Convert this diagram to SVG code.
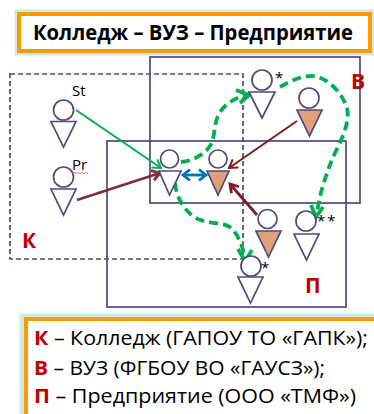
<svg xmlns="http://www.w3.org/2000/svg" width="374" height="414" viewBox="0 0 374 414">
<style>
text{font-family:"Open Sans","Noto Sans","DejaVu Sans",sans-serif;fill:#000}
.glow{fill:none;stroke:#cfe9e9;stroke-width:7}
.frame{fill:#fff;stroke:#ff9900;stroke-width:4}
.area{fill:none;stroke:#4b4b7d;stroke-width:1.700}
.dash{stroke-dasharray:5 3}
.p,.c{fill:#fff;stroke:#4b4b7d;stroke-width:1.700}
.o{fill:#e0a07a;stroke:#4b4b7d;stroke-width:1.700}
.g{fill:none;stroke:#00b050;stroke-width:2;marker-end:url(#ag)}
.gd{fill:none;stroke:#00b050;stroke-width:3.800;stroke-dasharray:9 5}
.gh{fill:none;stroke:#00b050;stroke-width:3.800}
.m{fill:none;stroke:#7b2f3a;stroke-width:2.800;marker-end:url(#am)}
.r{fill:none;stroke:#7f1a20;stroke-width:2;marker-end:url(#ar)}
.r2{fill:none;stroke:#7f1a20;stroke-width:2.800;marker-end:url(#ar2)}
.b{fill:none;stroke:#0070c0;stroke-width:2.800;marker-start:url(#abs);marker-end:url(#ab)}
.l{font-weight:700;font-size:21px;fill:#c00000}
.k{font-weight:700;fill:#c00000}
.s{font-size:15px}
.leg{font-size:20px}
.st{font-size:15px}
</style>
<defs>
<marker id="ag" markerUnits="userSpaceOnUse" markerWidth="14" markerHeight="14" refX="9" refY="6" orient="auto"><path d="M1 1L9 6L1 11" fill="none" stroke="#00b050" stroke-width="2"/></marker>
<marker id="am" markerUnits="userSpaceOnUse" markerWidth="14" markerHeight="14" refX="10" refY="6" orient="auto"><path d="M2 1L10 6L2 11" fill="none" stroke="#7b2f3a" stroke-width="2.800"/></marker>
<marker id="ar" markerUnits="userSpaceOnUse" markerWidth="14" markerHeight="14" refX="10" refY="6" orient="auto"><path d="M2 1L10 6L2 11" fill="none" stroke="#7f1a20" stroke-width="2"/></marker>
<marker id="ar2" markerUnits="userSpaceOnUse" markerWidth="14" markerHeight="14" refX="10" refY="6" orient="auto"><path d="M2 1L10 6L2 11" fill="none" stroke="#7f1a20" stroke-width="2.800"/></marker>
<marker id="ab" markerUnits="userSpaceOnUse" markerWidth="14" markerHeight="14" refX="9" refY="7" orient="auto"><path d="M2 1.500L9 7L2 12.500" fill="none" stroke="#0070c0" stroke-width="2.800"/></marker>
<marker id="abs" markerUnits="userSpaceOnUse" markerWidth="14" markerHeight="14" refX="5" refY="7" orient="auto"><path d="M12 1.500L5 7L12 12.500" fill="none" stroke="#0070c0" stroke-width="2.800"/></marker>
</defs>

<g id="title">
<rect class="glow" x="18" y="13" width="353" height="39"/>
<rect class="frame" x="19" y="14" width="351" height="37"/>
<text x="33" y="40" font-size="21" font-weight="700" textLength="320" lengthAdjust="spacingAndGlyphs">Колледж – ВУЗ – Предприятие</text>
</g>

<g id="area-k"><rect class="area dash" x="10" y="74" width="233" height="185"/><text class="l" x="22" y="248">К</text></g>
<g id="area-v"><rect class="area" x="150" y="57" width="210" height="146"/><text class="l" x="351" y="89">В</text></g>
<g id="area-p"><rect class="area" x="107" y="141" width="239" height="166"/><text class="l" x="305" y="293">П</text></g>

<g id="connectors">
<path class="g" d="M76 110L161 168"/>
<path class="m" d="M77 200L160 173"/>
<path class="r" d="M297 121L229 168"/>
<path class="r2" d="M257 215L230 184"/>
<path class="b" d="M183 175H206"/>
<path class="gd" d="M181 162C192 161 204 155 210 146C216 136 213 125 219 114C225 103 236 98 246 95"/>
<path class="gh" d="M236 90L249 95L240 103"/>
<path class="gd" d="M280 87C292 80 302 76 312 76C326 76 342 92 347 108C351 125 338 145 331 162C325 178 319 196 317 214"/>
<path class="gh" d="M311 205L316 217L323 207"/>
<path class="gd" d="M175 183C176 195 182 208 194 217C205 224 220 222 228 226C237 231 243 246 245 259"/>
<path class="gh" d="M238 249L245 261L252 250"/>
</g>

<g id="st"><circle class="c" cx="63.500" cy="110" r="10"/><path class="p" d="M51 121.500H76L63.500 147Z"/><text class="st" x="72" y="96">St</text></g>
<g id="pr"><circle class="c" cx="63.500" cy="177" r="10"/><path class="p" d="M51 189H76L63.500 215Z"/><text class="st" x="72" y="170">Pr</text><path d="M72 173.500l2 -1l2 1l2 -1l2 1l2 -1l2 1l2 -1l2 1" fill="none" stroke="#e05050" stroke-width="0.800"/></g>
<g id="center-white"><circle class="c" cx="169.500" cy="159" r="9"/><path class="p" d="M159 171H181L169.500 195Z"/></g>
<g id="center-orange"><circle class="c" cx="218" cy="159" r="9"/><path class="o" d="M207 171H229L218 195Z"/></g>
<g id="top-star"><circle class="c" cx="262" cy="80" r="10"/><path class="p" d="M249 92H275L262 118Z"/><text class="s" x="275" y="83">*</text></g>
<g id="top-orange"><circle class="c" cx="309" cy="98" r="10"/><path class="o" d="M297 110H322L309.500 136Z"/></g>
<g id="low-orange"><circle class="c" cx="267.500" cy="219" r="9.500"/><path class="o" d="M256 231H281L268.500 257Z"/></g>
<g id="low-stars"><circle class="c" cx="306" cy="221" r="10"/><path class="p" d="M294 234H319L306.500 260Z"/><text class="s" x="317" y="226" letter-spacing="2">**</text></g>
<g id="low-star"><circle class="c" cx="251" cy="266" r="10"/><path class="p" d="M238 277H263L250.500 303Z"/><text class="s" x="261" y="273">*</text></g>

<g id="legend">
<rect class="glow" x="23" y="317" width="360" height="100"/>
<rect class="frame" x="26" y="319" width="360" height="100"/>
<text class="leg" x="34" y="345" textLength="334" lengthAdjust="spacingAndGlyphs"><tspan class="k">К</tspan> – Колледж (ГАПОУ ТО «ГАПК»);</text>
<text class="leg" x="34" y="375" textLength="291" lengthAdjust="spacingAndGlyphs"><tspan class="k">В</tspan> – ВУЗ (ФГБОУ ВО «ГАУСЗ»);</text>
<text class="leg" x="34" y="403" textLength="322" lengthAdjust="spacingAndGlyphs"><tspan class="k">П</tspan> – Предприятие (ООО «ТМФ»)</text>
</g>
</svg>
